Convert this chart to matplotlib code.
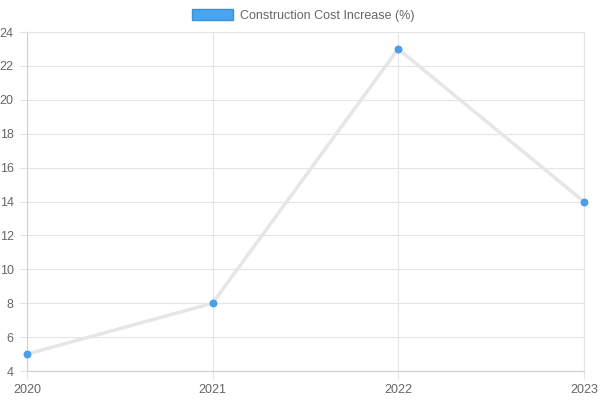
import matplotlib
matplotlib.use("Agg")
import matplotlib.pyplot as plt
from matplotlib.patches import Patch

# data
years = ["2020", "2021", "2022", "2023"]
cost_increase = [5, 8, 23, 14]
series_label = "Construction Cost Increase (%)"

plt.rcParams['font.family'] = ['Liberation Sans', 'DejaVu Sans']

fig = plt.figure(figsize=(6, 4), dpi=100)
ax = fig.add_axes([0.045, 0.0725, 0.928, 0.8475])

x = range(len(years))
ax.plot(x, cost_increase, color="#e6e6e6", lw=2.5, zorder=2, solid_capstyle="round")
ax.scatter(x, cost_increase, s=22, color="#4a9fe6", zorder=3, clip_on=False)

ax.set_xlim(0, len(years) - 1)
ax.set_ylim(4, 24)
ax.set_yticks(range(4, 25, 2))
ax.set_xticks(list(x))
ax.set_xticklabels(years)

grid_c = "#e5e5e5"
ax.grid(True, color=grid_c, lw=0.8)
ax.set_axisbelow(True)
for s in ax.spines.values():
    s.set_color(grid_c)
    s.set_linewidth(0.8)
ax.spines["left"].set_color("#d0d0d0")
ax.spines["bottom"].set_color("#d0d0d0")
ax.tick_params(axis="both", colors="#666666", labelsize=9, length=6, width=0.8)
ax.tick_params(axis="both", color=grid_c)

leg = fig.legend(handles=[Patch(facecolor="#4aa5ee", edgecolor="#3b8fdd", label=series_label)],
                 loc="upper center", bbox_to_anchor=(0.505, 1.005), frameon=False,
                 fontsize=9, handlelength=3.3, handleheight=0.9, handletextpad=0.5)
for t in leg.get_texts():
    t.set_color("#666666")

fig.savefig("out.png", dpi=100)
